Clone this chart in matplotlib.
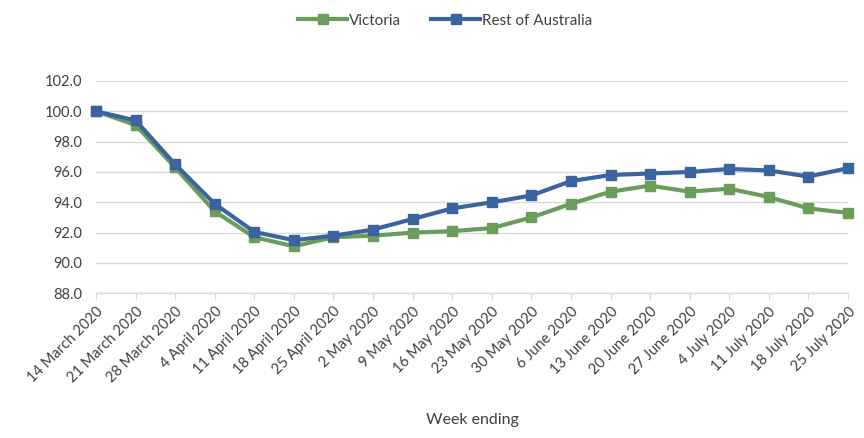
import matplotlib
matplotlib.use("Agg")
import matplotlib.pyplot as plt

weeks = ["14 March 2020", "21 March 2020", "28 March 2020", "4 April 2020",
         "11 April 2020", "18 April 2020", "25 April 2020", "2 May 2020",
         "9 May 2020", "16 May 2020", "23 May 2020", "30 May 2020",
         "6 June 2020", "13 June 2020", "20 June 2020", "27 June 2020",
         "4 July 2020", "11 July 2020", "18 July 2020", "25 July 2020"]
victoria = [100.0, 99.1, 96.3, 93.4, 91.7, 91.1, 91.7, 91.8, 92.0, 92.1,
            92.3, 93.0, 93.9, 94.7, 95.1, 94.7, 94.9, 94.35, 93.6, 93.3]
rest_of_australia = [100.0, 99.4, 96.5, 93.9, 92.05, 91.5, 91.8, 92.2, 92.9, 93.6,
                     94.0, 94.45, 95.4, 95.8, 95.9, 96.0, 96.2, 96.1, 95.7, 96.25]
yticks = [88.0, 90.0, 92.0, 94.0, 96.0, 98.0, 100.0, 102.0]

plt.rcParams['font.family'] = ['Lato', 'DejaVu Sans']
text_color = '#404040'

fig = plt.figure(figsize=(8.64, 4.38), dpi=100)
ax = fig.add_axes([96/864, 1 - 293.3/438, (848-96)/864, (293.3-81)/438])

x = list(range(len(weeks)))
ax.plot(x, victoria, color='#6A9D59', linewidth=3.0, marker='s', markersize=6.5,
        label='Victoria', zorder=3)
ax.plot(x, rest_of_australia, color='#3B63A0', linewidth=3.0, marker='s', markersize=6.5,
        label='Rest of Australia', zorder=4)

ax.set_xlim(0, len(weeks) - 1)
ax.set_ylim(88, 102)
ax.set_yticks(yticks)
ax.set_yticklabels([f"{v:.1f}" for v in yticks], color=text_color, fontsize=10.5)
ax.set_xticks(x)
ax.set_xticklabels(weeks, rotation=45, ha='right', rotation_mode='anchor',
                   color=text_color, fontsize=10.5)

ax.grid(axis='y', color='#D9D9D9', linewidth=1)
ax.set_axisbelow(True)
for s in ['top', 'right', 'left']:
    ax.spines[s].set_visible(False)
ax.spines['bottom'].set_color('#D9D9D9')
ax.spines['bottom'].set_linewidth(1)
ax.tick_params(axis='y', length=0, pad=10)
ax.tick_params(axis='x', length=5, color='#D9D9D9', pad=3)
for line in ax.lines:
    line.set_clip_on(False)

ax.set_xlabel('Week ending', color=text_color, fontsize=11.5, labelpad=20)

fig.legend(loc='upper center', bbox_to_anchor=(0.515, 1.0), ncol=2, frameon=False,
           fontsize=11, labelcolor=text_color, handlelength=3.2, columnspacing=2.0,
           handletextpad=0.1)

fig.savefig('out.png', dpi=100)
